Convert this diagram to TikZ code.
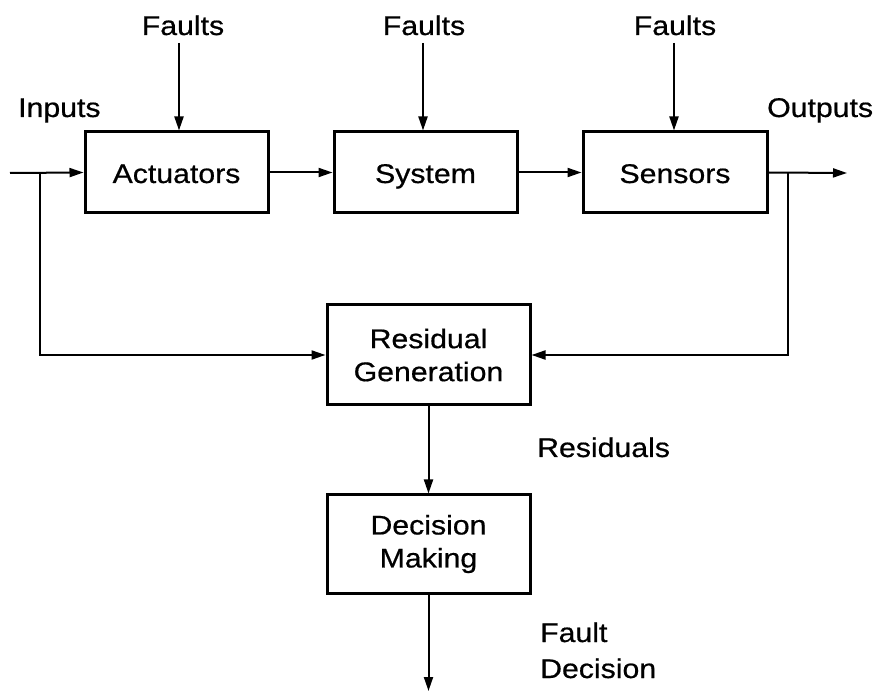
\documentclass[tikz,border=0pt]{standalone}
\usepackage{fontspec}
\setmainfont{Liberation Sans}[FakeStretch=1.12,FakeBold=0.6]
\usetikzlibrary{arrows.meta}
\begin{document}
\begin{tikzpicture}[x=1pt,y=-1pt,
  blockbox/.style={draw, line width=3pt, inner sep=0pt, align=center,
                   font=\fontsize{27}{33}\selectfont},
  linebox/.style={blockbox, text height=21pt, text depth=0pt},
  lbl/.style={inner sep=0pt, font=\fontsize{27}{33}\selectfont},
  flow/.style={line width=2pt, -{Triangle[length=14pt,width=9pt]}},
  wire/.style={line width=2pt}]
\useasboundingbox (0,0) rectangle (884,692);

% process chain
\node[linebox, minimum width=183pt, minimum height=81pt] (act) at (176.5,172.5) {Actuators};
\node[linebox, minimum width=183pt, minimum height=81pt] (sys) at (425.5,172.5) {System};
\node[linebox, minimum width=184pt, minimum height=81pt] (sen) at (675,172.5) {Sensors};

% diagnosis chain
\node[blockbox, minimum width=203pt, minimum height=100pt] (res) at (428.5,355) {Residual\\Generation};
\node[blockbox, minimum width=203pt, minimum height=98pt] (dec) at (428.5,544) {Decision\\Making};

% labels
\node[lbl, anchor=base] (fl1) at (183,35) {Faults};
\node[lbl, anchor=base] (fl2) at (424,35) {Faults};
\node[lbl, anchor=base] (fl3) at (675,35) {Faults};
\node[lbl, anchor=base west] (inlbl) at (18,117) {Inputs};
\node[lbl, anchor=base west] (outlbl) at (767,117) {Outputs};
\node[lbl, anchor=base west] (reslbl) at (537,457) {Residuals};
\node[lbl, anchor=base west] (fdlbl1) at (540,642) {Fault};
\node[lbl, anchor=base west] (fdlbl2) at (540,678) {Decision};

% connector end points
\coordinate (inL) at (10,173);
\coordinate (inB) at (40,173);
\coordinate (outR) at (847,173);
\coordinate (outB) at (788,173);
\coordinate (f1) at (179,43);
\coordinate (f2) at (423,43);
\coordinate (f3) at (674,43);
\coordinate (fd) at (428.5,691);

% signal flow
\draw[flow] (inL) -- (act.west);
\draw[flow] (act.east) -- (sys.west);
\draw[flow] (sys.east) -- (sen.west);
\draw[flow] (sen.east) -- (outR);
\draw[flow] (f1) -- (f1 |- act.north);
\draw[flow] (f2) -- (f2 |- sys.north);
\draw[flow] (f3) -- (f3 |- sen.north);
\draw[flow] (inB) |- (res.west);
\draw[flow] (outB) |- (res.east);
\draw[flow] (res.south) -- (dec.north);
\draw[flow] (dec.south) -- (fd);
\end{tikzpicture}
\end{document}
